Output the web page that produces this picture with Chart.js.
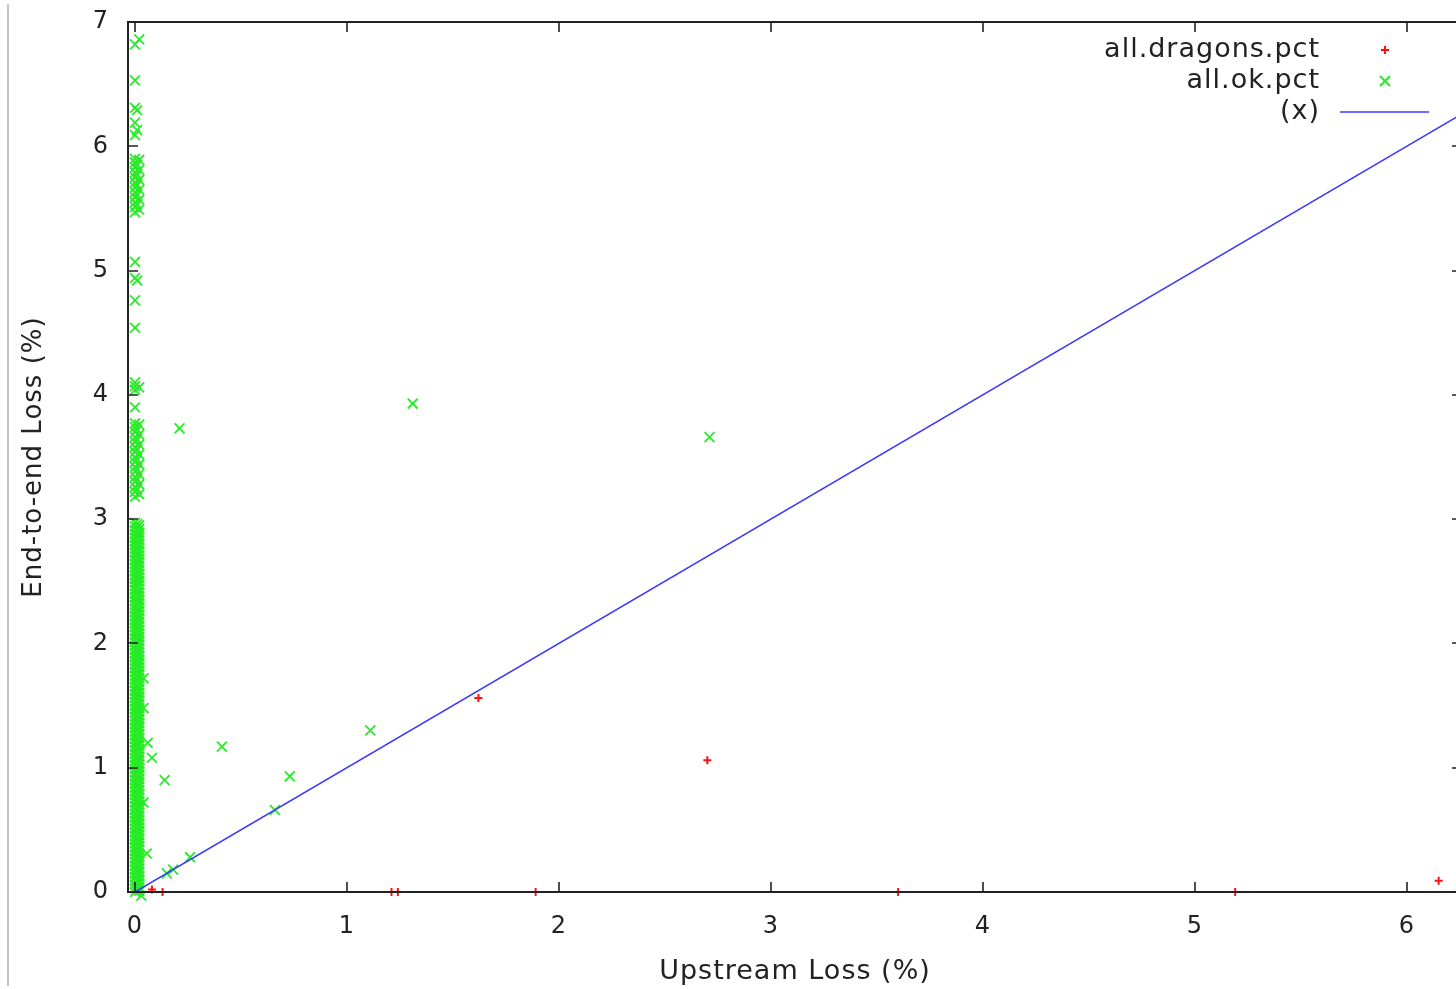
<!DOCTYPE html>
<html>
<head>
<meta charset="utf-8">
<script src="https://cdn.jsdelivr.net/npm/chart.js@4.4.1/dist/chart.umd.min.js"></script>
<style>
html, body { margin: 0; padding: 0; background: #fff; overflow: hidden; width: 1456px; height: 989px; }
#edge { position: absolute; left: 7px; top: 4px; width: 2px; height: 982px; background: #c4c4c4; }
#wrap { position: absolute; left: 0; top: 0; width: 1462px; height: 989px; }
</style>
</head>
<body>
<div id="edge"></div>
<div id="wrap"><canvas id="myChart" width="1462" height="989"></canvas></div>
<script>
// tick labels
var xTicks = [0, 1, 2, 3, 4, 5, 6];
var yTicks = [0, 1, 2, 3, 4, 5, 6, 7];

// all.dragons.pct
var dragonsX = [0.08, 0.13, 1.21, 1.24, 1.62, 1.89, 2.70, 3.60, 5.19, 6.15];
var dragonsY = [0.02, 0.00, 0.00, 0.00, 1.56, 0.00, 1.06, 0.00, 0.00, 0.09];

// all.ok.pct, the dense column close to x = 0 (one x per column list)
var okColumnX = [0.00, 0.02, 0.01];
var okColumnY0 = [0.00, 0.03, 0.06, 0.09, 0.12, 0.15, 0.18, 0.21, 0.24, 0.27, 0.30, 0.33, 0.36, 0.39, 0.42,
                  0.45, 0.48, 0.51, 0.54, 0.57, 0.60, 0.63, 0.66, 0.69, 0.72, 0.75, 0.78, 0.81, 0.84, 0.87,
                  0.90, 0.93, 0.96, 0.99, 1.02, 1.05, 1.08, 1.11, 1.14, 1.17, 1.20, 1.23, 1.26, 1.29, 1.32,
                  1.35, 1.38, 1.41, 1.44, 1.47, 1.50, 1.53, 1.56, 1.59, 1.62, 1.65, 1.68, 1.71, 1.74, 1.77,
                  1.80, 1.83, 1.86, 1.89, 1.92, 1.95, 1.98, 2.01, 2.04, 2.07, 2.10, 2.13, 2.16, 2.19, 2.22,
                  2.25, 2.28, 2.31, 2.34, 2.37, 2.40, 2.43, 2.46, 2.49, 2.52, 2.55, 2.58, 2.61, 2.64, 2.67,
                  2.70, 2.73, 2.76, 2.79, 2.82, 2.85, 2.88, 2.91, 2.94, 2.97, 3.18, 3.22, 3.26, 3.30, 3.34,
                  3.38, 3.42, 3.46, 3.50, 3.54, 3.58, 3.62, 3.66, 3.70, 3.74, 3.77, 3.90, 4.04, 4.07, 4.10,
                  4.54, 4.76, 4.94, 5.07, 5.47, 5.51, 5.55, 5.59, 5.63, 5.67, 5.71, 5.75, 5.79, 5.83, 5.87,
                  5.90, 6.09, 6.19, 6.31, 6.53, 6.82];
var okColumnY1 = [0.01, 0.04, 0.07, 0.10, 0.13, 0.16, 0.19, 0.22, 0.25, 0.28, 0.31, 0.34, 0.37, 0.40, 0.43,
                  0.46, 0.49, 0.52, 0.55, 0.58, 0.61, 0.64, 0.67, 0.70, 0.73, 0.76, 0.79, 0.82, 0.85, 0.88,
                  0.91, 0.94, 0.97, 1.00, 1.03, 1.06, 1.09, 1.12, 1.15, 1.18, 1.21, 1.24, 1.27, 1.30, 1.33,
                  1.36, 1.39, 1.42, 1.45, 1.48, 1.51, 1.54, 1.57, 1.60, 1.63, 1.66, 1.69, 1.72, 1.75, 1.78,
                  1.81, 1.84, 1.87, 1.90, 1.93, 1.96, 1.99, 2.02, 2.05, 2.08, 2.11, 2.14, 2.17, 2.20, 2.23,
                  2.26, 2.29, 2.32, 2.35, 2.38, 2.41, 2.44, 2.47, 2.50, 2.53, 2.56, 2.59, 2.62, 2.65, 2.68,
                  2.71, 2.74, 2.77, 2.80, 2.83, 2.86, 2.89, 2.92, 2.95, 3.20, 3.28, 3.36, 3.44, 3.52, 3.60,
                  3.68, 3.76, 4.06, 5.49, 5.57, 5.65, 5.73, 5.81, 5.89, 6.86];
var okColumnY2 = [0.02, 0.05, 0.08, 0.11, 0.14, 0.17, 0.20, 0.23, 0.26, 0.29, 0.32, 0.35, 0.38, 0.41, 0.44,
                  0.47, 0.50, 0.53, 0.56, 0.59, 0.62, 0.65, 0.68, 0.71, 0.74, 0.77, 0.80, 0.83, 0.86, 0.89,
                  0.92, 0.95, 0.98, 1.01, 1.04, 1.07, 1.10, 1.13, 1.16, 1.19, 1.22, 1.25, 1.28, 1.31, 1.34,
                  1.37, 1.40, 1.43, 1.46, 1.49, 1.52, 1.55, 1.58, 1.61, 1.64, 1.67, 1.70, 1.73, 1.76, 1.79,
                  1.82, 1.85, 1.88, 1.91, 1.94, 1.97, 2.00, 2.03, 2.06, 2.09, 2.12, 2.15, 2.18, 2.21, 2.24,
                  2.27, 2.30, 2.33, 2.36, 2.39, 2.42, 2.45, 2.48, 2.51, 2.54, 2.57, 2.60, 2.63, 2.66, 2.69,
                  2.72, 2.75, 2.78, 2.81, 2.84, 2.87, 2.90, 2.93, 2.96, 3.24, 3.32, 3.40, 3.48, 3.56, 3.64,
                  3.72, 4.92, 5.53, 5.61, 5.69, 5.77, 5.85, 6.13, 6.29];
// all.ok.pct, the scattered ones
var okX = [0.04, 0.04, 0.06, 0.08, 0.14, 0.41, 0.04, 0.055, 0.26, 0.15, 0.18, 1.31, 2.71, 0.21, 1.11, 0.73, 0.66, 0.03];
var okY = [1.72, 1.48, 1.20, 1.08, 0.90, 1.17, 0.72, 0.31, 0.28, 0.15, 0.18, 3.93, 3.66, 3.73, 1.30, 0.93, 0.66, -0.03];

// (x) : y = x
var lineX = [0, 7];

function pairs(xs, ys) {
    var out = [];
    for (var i = 0; i < xs.length; i++) out.push({x: xs[i], y: ys[i]});
    return out;
}

function okPoints() {
    var out = [];
    [okColumnY0, okColumnY1, okColumnY2].forEach(function (ys, k) {
        ys.forEach(function (y) { out.push({x: okColumnX[k], y: y}); });
    });
    return out.concat(pairs(okX, okY));
}

var FONT = "'DejaVu Sans', sans-serif";
var TXT = '#222';

// the gnuplot text is a little wider than DejaVu at this size
var spacingPlugin = {
    id: 'spacing',
    beforeDraw: function (chart) { chart.ctx.letterSpacing = '1px'; }
};

var framePlugin = {
    id: 'frame',
    afterDatasetsDraw: function (chart) {
        var a = chart.chartArea, c = chart.ctx;
        var sx = chart.scales.x, sy = chart.scales.y;
        c.save();
        c.strokeStyle = '#222';
        c.lineWidth = 2;
        c.strokeRect(a.left, a.top, a.right - a.left, a.bottom - a.top);
        c.lineWidth = 1.6;
        c.beginPath();
        xTicks.forEach(function (v) {
            var px = Math.round(sx.getPixelForValue(v));
            c.moveTo(px, a.bottom); c.lineTo(px, a.bottom - 10);
            c.moveTo(px, a.top); c.lineTo(px, a.top + 10);
        });
        yTicks.forEach(function (v) {
            var py = Math.round(sy.getPixelForValue(v));
            c.moveTo(a.left, py); c.lineTo(a.left + 10, py);
            c.moveTo(a.right, py); c.lineTo(a.right - 10, py);
        });
        c.stroke();
        c.restore();
    }
};

var legendPlugin = {
    id: 'gpLegend',
    afterDraw: function (chart) {
        var c = chart.ctx;
        var ds = chart.data.datasets;
        var textRight = 1320, sampleX = 1385, rowY = [50, 81, 112];
        c.save();
        c.letterSpacing = '1px';
        c.font = '27px ' + FONT;
        c.fillStyle = TXT;
        c.textAlign = 'right';
        c.textBaseline = 'middle';
        ds.forEach(function (d, i) {
            c.fillText(d.label, textRight, rowY[i]);
            c.strokeStyle = d.borderColor;
            c.lineWidth = 2;
            c.beginPath();
            if (d.type === 'line') {
                c.lineWidth = 1.5;
                c.moveTo(1340, rowY[i]); c.lineTo(1429, rowY[i]);
            } else if (d.pointStyle === 'cross') {
                c.moveTo(sampleX - 4, rowY[i]); c.lineTo(sampleX + 4, rowY[i]);
                c.moveTo(sampleX, rowY[i] - 4); c.lineTo(sampleX, rowY[i] + 4);
            } else {
                c.moveTo(sampleX - 5, rowY[i] - 5); c.lineTo(sampleX + 5, rowY[i] + 5);
                c.moveTo(sampleX + 5, rowY[i] - 5); c.lineTo(sampleX - 5, rowY[i] + 5);
            }
            c.stroke();
        });
        c.restore();
    }
};

var ctx = document.getElementById('myChart').getContext('2d');
var myChart = new Chart(ctx, {
    type: 'scatter',
    data: {
        datasets: [
            {
                label: 'all.dragons.pct',
                data: pairs(dragonsX, dragonsY),
                pointStyle: 'cross',
                pointRadius: 4,
                pointBorderWidth: 2,
                borderColor: '#ff1010',
                backgroundColor: '#ff1010',
                clip: false,
                order: 3
            },
            {
                label: 'all.ok.pct',
                data: okPoints(),
                pointStyle: 'crossRot',
                pointRadius: 7,
                pointBorderWidth: 1.8,
                borderColor: 'rgb(40,235,40)',
                backgroundColor: 'rgb(40,235,40)',
                clip: false,
                order: 2
            },
            {
                type: 'line',
                label: '(x)',
                data: pairs(lineX, lineX),
                borderColor: '#3a3aff',
                borderWidth: 1.5,
                pointRadius: 0,
                fill: false,
                order: 1
            }
        ]
    },
    options: {
        responsive: false,
        animation: false,
        events: [],
        layout: { autoPadding: false, padding: { top: 22, right: 0, bottom: 0, left: 0 } },
        plugins: { legend: { display: false }, tooltip: { enabled: false } },
        scales: {
            x: {
                type: 'linear',
                min: -0.033,
                max: 6.26,
                grid: { display: false, drawTicks: false },
                border: { display: false },
                afterBuildTicks: function (s) { s.ticks = xTicks.map(function (v) { return {value: v}; }); },
                afterFit: function (s) { s.height = 97; s.paddingLeft = 0; s.paddingRight = 0; },
                ticks: { color: TXT, font: { family: FONT, size: 24 }, padding: 20, maxRotation: 0 },
                title: { display: true, text: 'Upstream Loss (%)', color: TXT, font: { family: FONT, size: 27 }, padding: { top: 0, bottom: 1 } }
            },
            y: {
                type: 'linear',
                min: 0,
                max: 7,
                grid: { display: false, drawTicks: false },
                border: { display: false },
                afterBuildTicks: function (s) { s.ticks = yTicks.map(function (v) { return {value: v}; }); },
                afterFit: function (s) { s.width = 128; s.paddingTop = 0; s.paddingBottom = 0; },
                ticks: { color: TXT, font: { family: FONT, size: 24 }, padding: 19 },
                title: { display: true, text: 'End-to-end Loss (%)', color: TXT, font: { family: FONT, size: 26 }, padding: { top: 19, bottom: 0 } }
            }
        }
    },
    plugins: [spacingPlugin, framePlugin, legendPlugin]
});
</script>
</body>
</html>
